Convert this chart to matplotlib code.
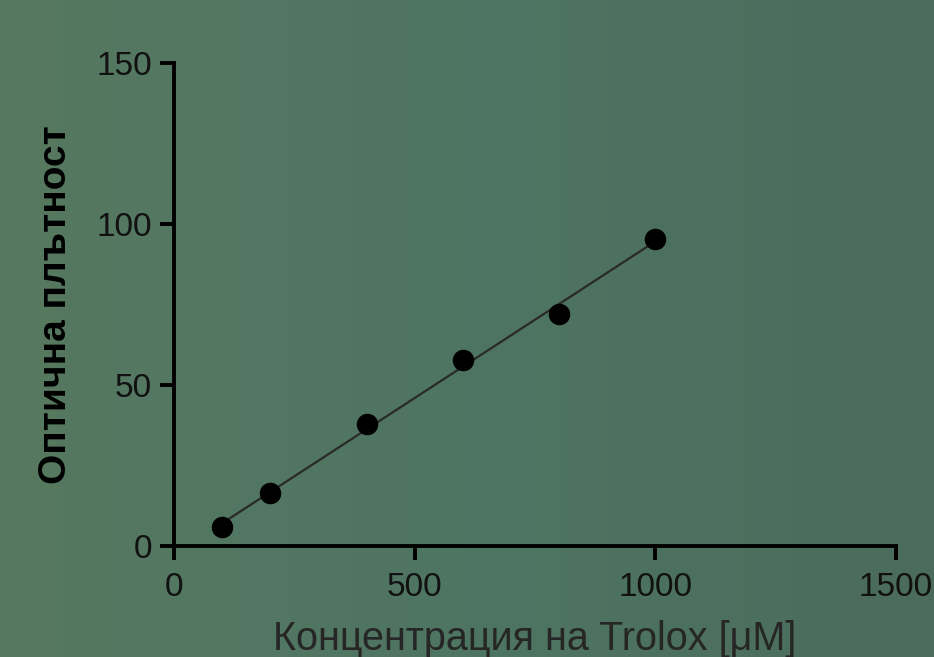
import numpy as np
import matplotlib
matplotlib.use("Agg")
import matplotlib.pyplot as plt
from matplotlib.colors import LinearSegmentedColormap

# Data
concentration = [100, 200, 400, 600, 800, 1000]
optical_density = [5.9, 16.4, 37.7, 57.7, 72.0, 95.2]
x_ticks = [0, 500, 1000, 1500]
y_ticks = [0, 50, 100, 150]
x_label = "Концентрация на Trolox [μM]"
y_label = "Оптична плътност"

plt.rcParams['font.family'] = ['Liberation Sans', 'DejaVu Sans']

fig = plt.figure(figsize=(9.34, 6.57), dpi=100)

# background gradient
bg = fig.add_axes([0, 0, 1, 1], zorder=-10)
cmap = LinearSegmentedColormap.from_list("bg", ["#56795f", "#4e7563", "#4b6b5c"])
grad = np.linspace(0, 1, 256).reshape(1, -1)
bg.imshow(grad, aspect="auto", cmap=cmap, extent=[0, 1, 0, 1])
bg.axis("off")

ax = fig.add_axes([0.1863, 0.1694, 0.773, 0.7352])
ax.patch.set_alpha(0)

# regression line
xs = np.array(concentration, dtype=float)
ys = np.array(optical_density, dtype=float)
k, b = np.polyfit(xs, ys, 1)
xl = np.array([xs.min(), xs.max()])
ax.plot(xl, k * xl + b, color="#2a2a2a", lw=1.6, zorder=2)
ax.scatter(xs, ys, s=210, color="black", zorder=3)

ax.set_xlim(0, 1500)
ax.set_ylim(0, 150)
ax.set_xticks(x_ticks)
ax.set_yticks(y_ticks)
for s in ["top", "right"]:
    ax.spines[s].set_visible(False)
for s in ["left", "bottom"]:
    ax.spines[s].set_linewidth(2.8)
    ax.spines[s].set_color("black")
ax.tick_params(axis="both", direction="out", length=10, width=2.8, colors="black",
               labelsize=24, pad=6)
ax.tick_params(axis="x", pad=9)
for lab in ax.get_xticklabels() + ax.get_yticklabels():
    lab.set_color("#111111")

ax.set_xlabel(x_label, fontsize=28.5, color="#262626", labelpad=12)
ax.set_ylabel(y_label, fontsize=28, fontweight="bold", color="black", labelpad=16)

fig.savefig("out.png", dpi=100)
